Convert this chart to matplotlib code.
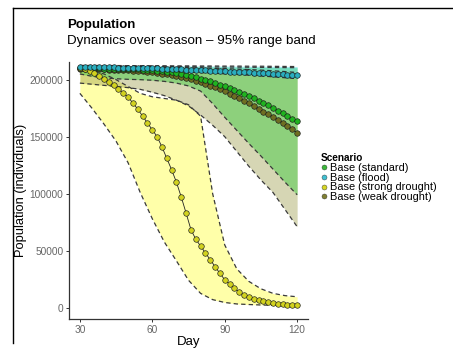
import numpy as np
import matplotlib
matplotlib.use("Agg")
import matplotlib.pyplot as plt
from matplotlib.lines import Line2D

# ---- data ----------------------------------------------------------------
days = np.arange(30, 121, 2)          # median trajectories, every 2nd day
band_days = np.arange(30, 121, 5)     # 95% range bands, every 5th day

scenarios = ["Base (standard)", "Base (flood)", "Base (strong drought)", "Base (weak drought)"]

standard_med = [210000, 210000, 210000, 209900, 209800, 209700, 209600, 209500, 209400, 209300,
                209200, 209100, 209000, 208800, 208600, 208300, 208000, 207600, 207100, 206500,
                205800, 205000, 204100, 203100, 202000, 200900, 199700, 198400, 197000, 195600,
                194100, 192500, 190900, 189200, 187400, 185600, 183700, 181700, 179600, 177400,
                175200, 172900, 170600, 168200, 165800, 163800]
flood_med = [211000, 211000, 210900, 210900, 210800, 210800, 210700, 210700, 210600, 210500,
             210400, 210300, 210200, 210100, 210000, 209900, 209800, 209700, 209500, 209400,
             209200, 209100, 208900, 208700, 208500, 208300, 208100, 207900, 207700, 207500,
             207300, 207100, 206900, 206700, 206500, 206300, 206100, 205900, 205700, 205500,
             205200, 205000, 204700, 204400, 204100, 203800]
strong_med = [210000, 209000, 207500, 205500, 203000, 200500, 198000, 195000, 192000, 188500,
              184500, 179500, 174000, 168000, 162000, 156000, 150000, 141000, 131000, 121000,
              110000, 97000, 83000, 68500, 60000, 54000, 48000, 42000, 36000, 30000,
              24500, 20500, 17000, 13800, 11000, 9000, 7500, 6300, 5400, 4700,
              4100, 3600, 3100, 2700, 2300, 2000]
weak_med = [209500, 209400, 209300, 209200, 209100, 209000, 208900, 208700, 208500, 208300,
            208100, 207800, 207500, 207200, 206800, 206400, 205900, 205300, 204700, 204000,
            203200, 202300, 201300, 200200, 199000, 197700, 196300, 194800, 193200, 191500,
            189700, 187800, 185800, 183700, 181500, 179200, 176800, 174300, 172000, 170000,
            167500, 165000, 162300, 159500, 156500, 153500]

standard_lo = [205000, 203000, 201500, 200800, 200300, 200000, 199500, 198500, 197000, 194500,
               190000, 179000, 167000, 155500, 144000, 133000, 121500, 110000, 99000]
standard_hi = [211800, 211800, 211700, 211700, 211600, 211600, 211500, 211500, 211400, 211400,
               211300, 211200, 211100, 211000, 210900, 210800, 210700, 210600, 210500]
flood_lo = [209500, 209300, 209000, 208800, 208500, 208200, 207900, 207500, 207100, 206700,
            206200, 205700, 205100, 204500, 203900, 203200, 202500, 201700, 200900]
flood_hi = [212500, 212500, 212400, 212400, 212300, 212300, 212200, 212200, 212100, 212100,
            212000, 212000, 211900, 211900, 211800, 211800, 211700, 211600, 211500]
strong_lo = [188000, 175000, 161000, 146000, 127000, 101000, 78000, 57500, 41000, 24000,
             12500, 7000, 4500, 3200, 2700, 2300, 2000, 1800, 1700]
strong_hi = [210500, 208000, 205000, 200000, 194000, 188000, 185000, 183500, 182000, 178000,
             168000, 100000, 55000, 34000, 23000, 16500, 12500, 10500, 9500]
weak_lo = [197000, 196000, 195000, 194000, 193000, 191500, 189000, 186000, 182000, 177000,
           169000, 160000, 150000, 137000, 124000, 112000, 101000, 86000, 71000]
weak_hi = [211500, 211500, 211400, 211300, 211200, 211100, 211000, 210900, 210700, 210500,
           210300, 210000, 209700, 209300, 208900, 208400, 207800, 207100, 206300]

x_ticks = [30, 60, 90, 120]
y_ticks = [0, 50000, 100000, 150000, 200000]

# ---- style ---------------------------------------------------------------
plt.rcParams["font.family"] = ["Liberation Sans", "DejaVu Sans"]

band_cols = ["#45cc45", "#3fd3e0", "#ffff55", "#9a9a45"]
band_alpha = [0.5, 0.45, 0.5, 0.4]
pt_cols = ["#1fb31f", "#2aaebf", "#d2d21e", "#6e6e22"]
leg_cols = ["#3cb93c", "#3fc1d3", "#d6d624", "#808033"]

meds = [standard_med, flood_med, strong_med, weak_med]
los = [standard_lo, flood_lo, strong_lo, weak_lo]
his = [standard_hi, flood_hi, strong_hi, weak_hi]

fig = plt.figure(figsize=(4.53, 3.53), dpi=100)
ax = fig.add_axes([69 / 453, 1 - 319 / 353, (308 - 69) / 453, (319 - 62) / 353])

# bands (weak drought underneath so the green stays on top)
for i in [2, 3, 0, 1]:
    ax.fill_between(band_days, los[i], his[i], color=band_cols[i], alpha=band_alpha[i], lw=0, zorder=1)
for i in [0, 1, 2, 3]:
    for edge in (los[i], his[i]):
        ax.plot(band_days, edge, color="#3a3a3a", lw=0.9, ls=(0, (3.5, 2.5)), zorder=2)

# medians
for i in [3, 0, 2, 1]:
    ax.plot(days, meds[i], color="#222222", lw=0.6, zorder=3)
    ax.plot(days, meds[i], ls="none", marker="o", ms=4.0, mfc=pt_cols[i],
            mec="#1a1a1a", mew=0.45, zorder=4)

ax.set_xlim(25.5, 124.5)
ax.set_ylim(-10000, 215500)
ax.set_xticks(x_ticks)
ax.set_yticks(y_ticks)
ax.set_yticklabels([str(v) for v in y_ticks])
for s in ["top", "right"]:
    ax.spines[s].set_visible(False)
for s in ["left", "bottom"]:
    ax.spines[s].set_color("#333333")
    ax.spines[s].set_linewidth(0.9)
ax.tick_params(axis="both", length=2.5, width=0.7, color="#333333",
               labelsize=7.3, labelcolor="#666666", pad=1.5)
ax.set_xlabel("Day", fontsize=9.5, labelpad=1)
ax.set_ylabel("Population (individuals)", fontsize=9.3, labelpad=2)

# titles
fig.text(67 / 453, 1 - 19 / 353, "Population", fontsize=9.5, fontweight="bold", va="top", ha="left")
fig.text(67 / 453, 1 - 35 / 353, "Dynamics over season \u2013 95% range band", fontsize=9.6,
         va="top", ha="left")

# legend
handles = [Line2D([], [], ls="none", marker="o", ms=3.6, mfc=c, mec="#333333", mew=0.3)
           for c in leg_cols]
leg = ax.legend(handles, scenarios, title="Scenario", loc="upper left",
                bbox_to_anchor=(321 / 453, 1 - 153 / 353), bbox_transform=fig.transFigure,
                frameon=False, fontsize=7.9, title_fontsize=7.2, labelspacing=-0.02,
                handlelength=0.5, handletextpad=0.35, borderpad=0, borderaxespad=0)
leg.get_title().set_fontweight("bold")
leg._legend_box.align = "left"

# outer frame (cut off at right in the original)
fig.add_artist(Line2D([13 / 453, 13 / 453], [1 - 8 / 353, 1 - 343 / 353],
                      transform=fig.transFigure, color="black", lw=1))
fig.add_artist(Line2D([13 / 453, 1.0], [1 - 8 / 353, 1 - 8 / 353],
                      transform=fig.transFigure, color="black", lw=1))

fig.savefig("out.png", dpi=100)
